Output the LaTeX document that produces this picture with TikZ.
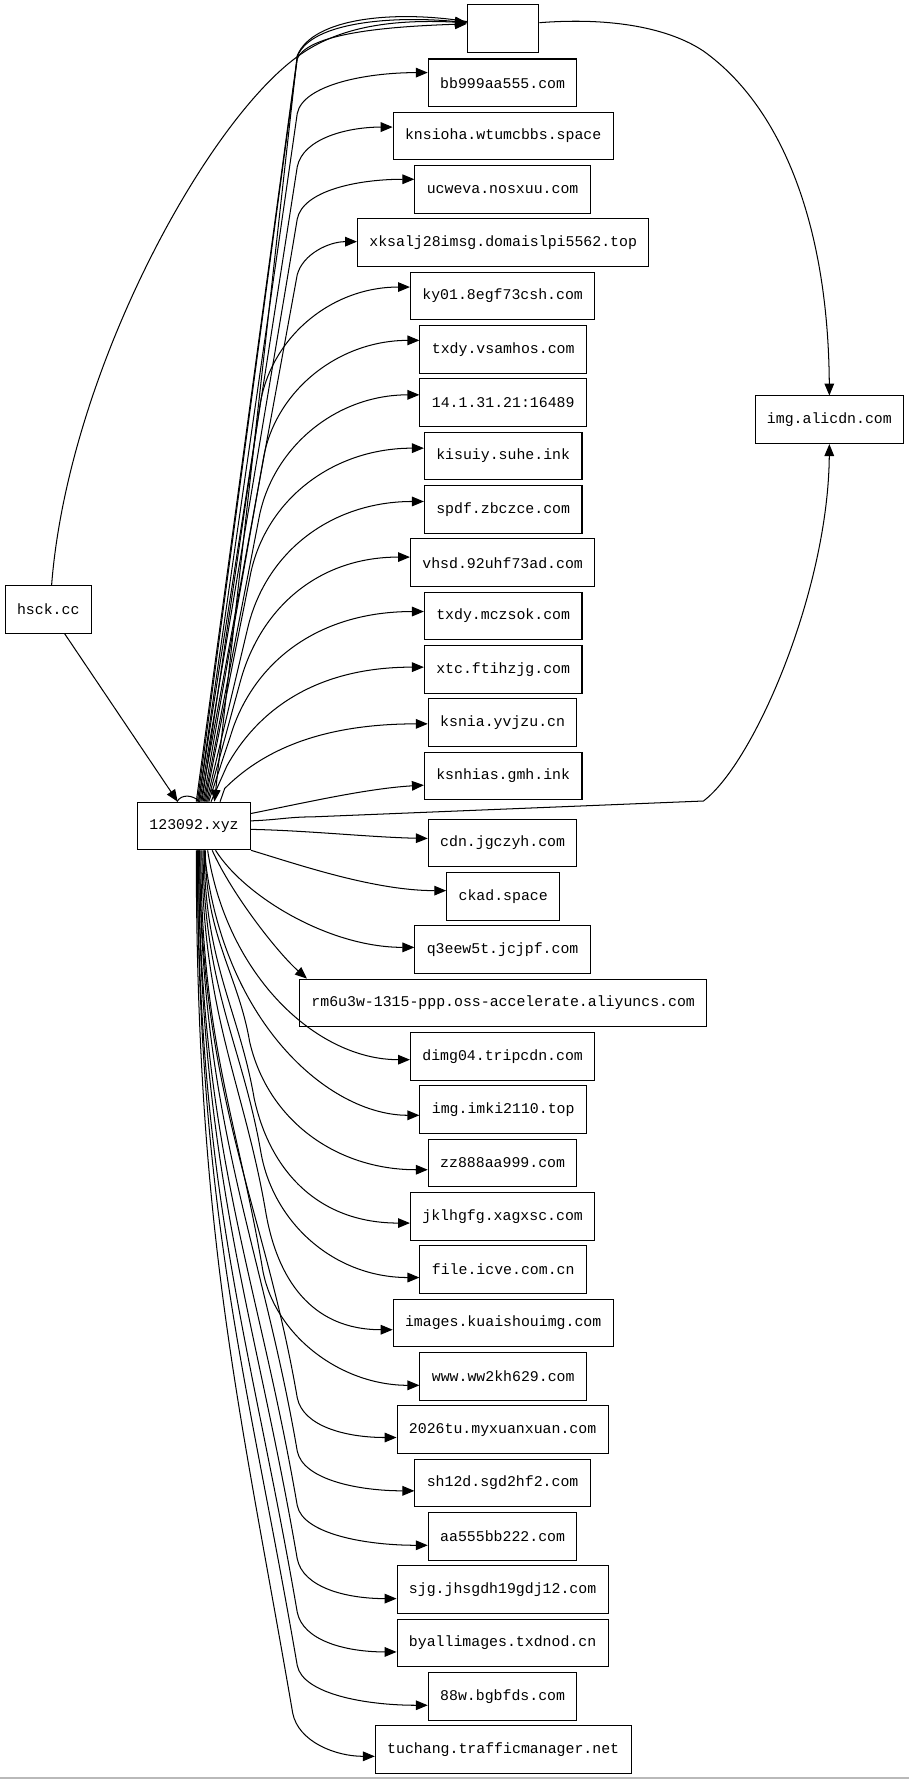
\documentclass[tikz,border=0pt]{standalone}
\usepackage{fontspec}
\newfontfamily\hostfont{Liberation Mono}
\usetikzlibrary{arrows.meta,calc}

\tikzset{
  host/.style={draw, line width=0.9pt, font=\hostfont\fontsize{13.1}{15}\selectfont, inner xsep=10.5pt, inner ysep=0pt, minimum height=42pt},
  wire/.style={line width=0.9pt, -{Triangle[length=10.5pt,width=8.5pt]}},
  plain/.style={line width=0.9pt}
}

\begin{document}
\begin{tikzpicture}[x=1pt,y=1pt,yscale=-1,xscale=1]
\useasboundingbox (0,0) rectangle (801,1568);

% Text Node
\node[host] (hsck) at (42.5,537) {hsck.cc};
\node[host] (xyz) at (171,728) {123092.xyz};
\node[host, minimum width=63pt] (blank) at (443.5,25) {};
\node[host] (ali) at (731,370) {img.alicdn.com};

% Text Node
\node[host] (bb) at (443,73) {bb999aa555.com};
\node[host] (kn) at (443.5,120) {knsioha.wtumcbbs.space};
\node[host] (uc) at (443,167) {ucweva.nosxuu.com};
\node[host] (xk) at (443.5,214) {xksalj28imsg.domaislpi5562.top};
\node[host] (ky) at (443,261) {ky01.8egf73csh.com};
\node[host] (tv) at (443.5,308) {txdy.vsamhos.com};
\node[host] (ip) at (443.5,355) {14.1.31.21:16489};
\node[host] (ki) at (443.5,402) {kisuiy.suhe.ink};
\node[host] (sp) at (443.5,449) {spdf.zbczce.com};
\node[host] (vh) at (443,496) {vhsd.92uhf73ad.com};
\node[host] (tm) at (443.5,543) {txdy.mczsok.com};
\node[host] (xt) at (443.5,590) {xtc.ftihzjg.com};
\node[host] (ks) at (443,637) {ksnia.yvjzu.cn};
\node[host] (kg) at (443.5,684) {ksnhias.gmh.ink};

% Text Node
\node[host] (cd) at (443,743) {cdn.jgczyh.com};
\node[host] (ck) at (443.5,790) {ckad.space};
\node[host] (q3) at (443,837) {q3eew5t.jcjpf.com};
\node[host] (rm) at (443.5,884) {rm6u3w-1315-ppp.oss-accelerate.aliyuncs.com};
\node[host] (di) at (443,931) {dimg04.tripcdn.com};
\node[host] (im) at (443.5,978) {img.imki2110.top};
\node[host] (zz) at (443,1025) {zz888aa999.com};
\node[host] (jk) at (443,1072) {jklhgfg.xagxsc.com};
\node[host] (fi) at (443.5,1119) {file.icve.com.cn};
\node[host] (ik) at (443.5,1166) {images.kuaishouimg.com};
\node[host] (ww) at (443.5,1213) {www.ww2kh629.com};
\node[host] (tu) at (443,1260) {2026tu.myxuanxuan.com};
\node[host] (sh) at (443,1307) {sh12d.sgd2hf2.com};
\node[host] (aa) at (443,1354) {aa555bb222.com};
\node[host] (sj) at (443,1401) {sjg.jhsgdh19gdj12.com};
\node[host] (by) at (443,1448) {byallimages.txdnod.cn};
\node[host] (bw) at (443,1495) {88w.bgbfds.com};
\node[host] (tc) at (443.5,1542) {tuchang.trafficmanager.net};

%Curves into the blank box
\draw[wire] (hsck) -- (xyz);
\draw[wire] ($(hsck.north)+(3,0)$) .. controls (60,330) and (180,110) .. (262,50) .. controls (300,22) and (350,17) .. ($(blank.west)+(0,-5)$);
\draw[wire] ([xshift=3pt]xyz.north) -- (262,52) .. controls +(10,-25) and +(-55,2) .. ($(blank.west)+(0,-4)$);
\draw[wire] ([xshift=2pt]xyz.north) -- (262,50) .. controls +(12,-32) and +(-60,-6) .. ($(blank.west)+(0,-5)$);
\draw[wire] ($(blank.west)+(0,-6)$) .. controls +(-62,-10) and +(14,-34) .. (262,49) -- ([xshift=18pt]xyz.north);
\draw[plain] ([xshift=-15pt]xyz.north) .. controls +(4,-7) and +(-6,-6) .. ([xshift=5pt]xyz.north);

%Curves to img.alicdn.com
\draw[wire] ($(blank.east)+(0,-5)$) .. controls (540,15) and (590,25) .. (620,45) .. controls (690,95) and (730,200) .. (ali.north);
\draw[wire] ($(xyz.east)+(0,-4.5)$) .. controls +(25,-1) and +(-20,0) .. (275,720) -- (620,706) .. controls (665,672) and (730,520) .. (ali.south);

%Curves upwards
\foreach \tgt/\sx/\bx/\by/\cx/\cy/\m/\dy in {bb/4/262/100/5/-25/55/-9, kn/4/262/147/5/-25/40/-8, uc/5/262/193/5/-25/50/-9, xk/6/262/242/5/-18/25/-1, ky/7/229/358/9/-60/70/-8, tv/8/232/405/10/-60/72/-8, ip/9/228/458/11/-62/75/-7, ki/10/221/505/14/-65/80/-7, sp/11/218/555/16/-70/80/-7, vh/12/212/600/18/-65/80/-5, tm/13/206/640/22/-60/90/-4, xt/15/200/675/25/-45/100/-2, ks/23/198/695/30/-30/100/1}
  \draw[wire] ([xshift=\sx pt]xyz.north) -- (\bx,\by) .. controls +(\cx,\cy) and +(-\m,0) .. ($(\tgt.west)+(0,\dy)$);

%Curves to the side
\draw[wire] ($(xyz.east)+(0,-11)$) .. controls +(50,-10) and +(-50,3) .. ($(kg.west)+(0,8)$);
\draw[wire] ($(xyz.east)+(0,3)$) .. controls +(50,1) and +(-50,-1) .. ($(cd.west)+(0,-4)$);
\draw[wire] (xyz.south east) .. controls +(40,12) and +(-64,0) .. ($(ck.west)+(0,-5)$);
\draw[wire] ([xshift=19pt]xyz.south) .. controls +(25,40) and +(-76,0) .. ($(q3.west)+(0,-2)$);
\draw[wire] ([xshift=16pt]xyz.south) .. controls +(18,40) and +(-25,-22) .. ($(rm.north west)+(7,0)$);
\draw[wire] ([xshift=12pt]xyz.south) .. controls +(17,111) and +(-82,0) .. ($(di.west)+(0,3)$);
\draw[wire] ([xshift=9pt]xyz.south) .. controls +(15,151) and +(-80,0) .. ($(im.west)+(0,5)$);

%Curves downwards
\foreach \tgt/\sx/\bx/\by/\cx/\cy/\m/\dy in {zz/10/220/918/16/70/80/6, jk/9/224/968/14/65/80/6, fi/8/230/1016/11/62/75/7, ik/7/234/1067/10/60/72/6, ww/6/231/1116/9/60/70/8, tu/5/262/1232/5/25/45/7, sh/5/262/1279/5/25/50/7, aa/4/262/1327/5/25/55/8, sj/4/262/1374/5/25/45/8, by/3/262/1421/5/25/45/8, bw/3/262/1468/5/25/55/8, tc/2/258/1510/5/25/35/6}
  \draw[wire] ([xshift=\sx pt]xyz.south) .. controls +(0,{0.45*(\by-749)}) and +({-0.06*(\by-749)},{-0.35*(\by-749)}) .. (\bx,\by) .. controls +(\cx,\cy) and +(-\m,0) .. ($(\tgt.west)+(0,\dy)$);

%bottom edge
\draw[gray!55, line width=1.2pt] (0,1567) -- (801,1567);

\end{tikzpicture}
\end{document}
